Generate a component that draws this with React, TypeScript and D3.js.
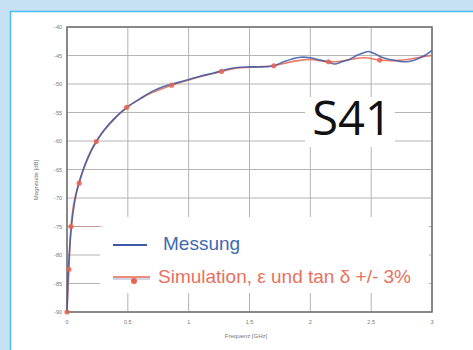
import React from "react";
import * as d3 from "d3";

const yTicks = [-40, -45, -50, -55, -60, -65, -70, -75, -80, -85, -90];
const xTicks = [0, 0.5, 1, 1.5, 2, 2.5, 3];
const xTickLabels = ["0", "0.5", "1", "1.5", "2", "2.5", "3"];

const messFreq = [0, 0.005, 0.015, 0.03, 0.05, 0.08, 0.1, 0.15, 0.2, 0.25, 0.3, 0.4, 0.5, 0.6, 0.7, 0.8, 0.9, 1.0, 1.1, 1.2, 1.3, 1.4, 1.5, 1.6, 1.7, 1.78, 1.85, 1.92, 2.0, 2.08, 2.15, 2.2, 2.26, 2.32, 2.38, 2.44, 2.48, 2.53, 2.6, 2.68, 2.76, 2.82, 2.88, 2.94, 3.0];
const messDb = [-90, -86, -81, -76.5, -72.5, -68.8, -67.2, -64, -61.6, -59.8, -58.2, -55.8, -54.0, -52.6, -51.3, -50.4, -49.8, -49.2, -48.6, -48.1, -47.5, -47.1, -47.0, -47.0, -46.8, -46.1, -45.6, -45.3, -45.4, -45.8, -46.2, -46.5, -46.1, -45.7, -45.0, -44.5, -44.3, -44.7, -45.4, -45.8, -46.1, -46.0, -45.6, -45.0, -44.1];

const simFreq = [0, 0.016, 0.033, 0.06, 0.1, 0.15, 0.24, 0.3, 0.4, 0.49, 0.6, 0.7, 0.86, 1.0, 1.1, 1.27, 1.4, 1.55, 1.7, 1.8, 1.9, 2.0, 2.15, 2.25, 2.35, 2.45, 2.57, 2.7, 2.8, 2.9, 3.0];
const simDb = [-90, -82.5, -75, -70.5, -67.4, -64.2, -60.1, -58.3, -55.9, -54.1, -52.6, -51.5, -50.2, -49.3, -48.7, -47.8, -47.2, -47.0, -46.8, -46.3, -45.9, -45.7, -46.1, -46.0, -45.6, -45.4, -45.8, -45.9, -45.7, -45.3, -45.0];

const markFreq = [0, 0.016, 0.033, 0.1, 0.24, 0.49, 0.86, 1.27, 1.7, 2.15, 2.57];
const markDb = [-90, -82.5, -75, -67.4, -60.1, -54.1, -50.2, -47.8, -46.8, -46.1, -45.8];

export default function App() {
  const W = 473, H = 350;
  const x = d3.scaleLinear().domain([0, 3]).range([67, 432]);
  const y = d3.scaleLinear().domain([-90, -40]).range([312, 27]);
  const line = d3.line<[number, number]>().x(d => x(d[0])).y(d => y(d[1])).curve(d3.curveCatmullRom);
  const mess = line(messFreq.map((f, i) => [f, messDb[i]]) as [number, number][]) || "";
  const sim = line(simFreq.map((f, i) => [f, simDb[i]]) as [number, number][]) || "";
  const blue = "#3a5aa6";
  const red = "#e8644f";
  const grid = "#b4b4b4";
  const tickColor = "#777";
  return (
    <svg width={W} height={H} style={{ position: "absolute", left: 0, top: 0, display: "block" }}>
      <rect x={0} y={0} width={W} height={H} fill="#c6e1f4" />
      <rect x={10.5} y={11.5} width={W} height={H} fill="#ffffff" stroke="#4cbcf0" strokeWidth={1.5} />
      {yTicks.map(t => (
        <line key={"gy" + t} x1={x(0)} x2={x(3)} y1={y(t)} y2={y(t)} stroke={grid} strokeWidth={1} />
      ))}
      {xTicks.map(t => (
        <line key={"gx" + t} x1={x(t)} x2={x(t)} y1={y(-40)} y2={y(-90)} stroke={grid} strokeWidth={1} />
      ))}
      <rect x={305} y={97} width={90} height={50} fill="#ffffff" />
      <rect x={100} y={217} width={329} height={76} fill="#ffffff" />
      <rect x={x(0)} y={y(-40)} width={x(3) - x(0)} height={y(-90) - y(-40)} fill="none" stroke="#6e6e6e" strokeWidth={1.5} />
      {yTicks.map(t => (
        <text key={"ty" + t} x={62} y={y(t) + 2} textAnchor="end" fontFamily="Liberation Sans, Arial, sans-serif" fontSize={5.5} fill={tickColor}>{t}</text>
      ))}
      {xTicks.map((t, i) => (
        <text key={"tx" + t} x={x(t)} y={324} textAnchor="middle" fontFamily="Liberation Sans, Arial, sans-serif" fontSize={5.5} fill={tickColor}>{xTickLabels[i]}</text>
      ))}
      <text x={246} y={338} textAnchor="middle" fontFamily="Liberation Sans, Arial, sans-serif" fontSize={6} fill={tickColor}>Frequenz [GHz]</text>
      <text transform={`translate(38,180) rotate(-90)`} textAnchor="middle" fontFamily="Liberation Sans, Arial, sans-serif" fontSize={6} fill={tickColor}>Magnitude [dB]</text>
      <line x1={x(0)} x2={103} y1={y(-75)} y2={y(-75)} stroke={red} strokeOpacity={0.35} strokeWidth={1} />
      <path d={sim} fill="none" stroke={red} strokeWidth={1.6} strokeOpacity={0.85} />
      <path d={mess} fill="none" stroke={blue} strokeWidth={1.6} strokeOpacity={0.85} />
      {markFreq.map((f, i) => (
        <circle key={"m" + i} cx={x(f)} cy={y(markDb[i])} r={2.6} fill={red} fillOpacity={0.85} />
      ))}
      <text x={352} y={135} fontFamily="Open Sans, DejaVu Sans, sans-serif" fontSize={47} textAnchor="middle" fill="#111">S41</text>
      <line x1={113} x2={147} y1={245} y2={245} stroke={blue} strokeWidth={1.8} />
      <text x={163} y={250} fontFamily="Liberation Sans, Arial, sans-serif" fontSize={19} fill="#3f6aad">Messung</text>
      <line x1={113} x2={150} y1={277} y2={277} stroke={red} strokeWidth={1.5} />
      <line x1={113} x2={150} y1={279} y2={279} stroke={blue} strokeOpacity={0.5} strokeWidth={1} />
      <circle cx={134} cy={281} r={3} fill={red} />
      <text x={158} y={283} fontFamily="Liberation Sans, Arial, sans-serif" fontSize={19} fill="#e8705f">Simulation, ε und tan δ +/- 3%</text>
    </svg>
  );
}
